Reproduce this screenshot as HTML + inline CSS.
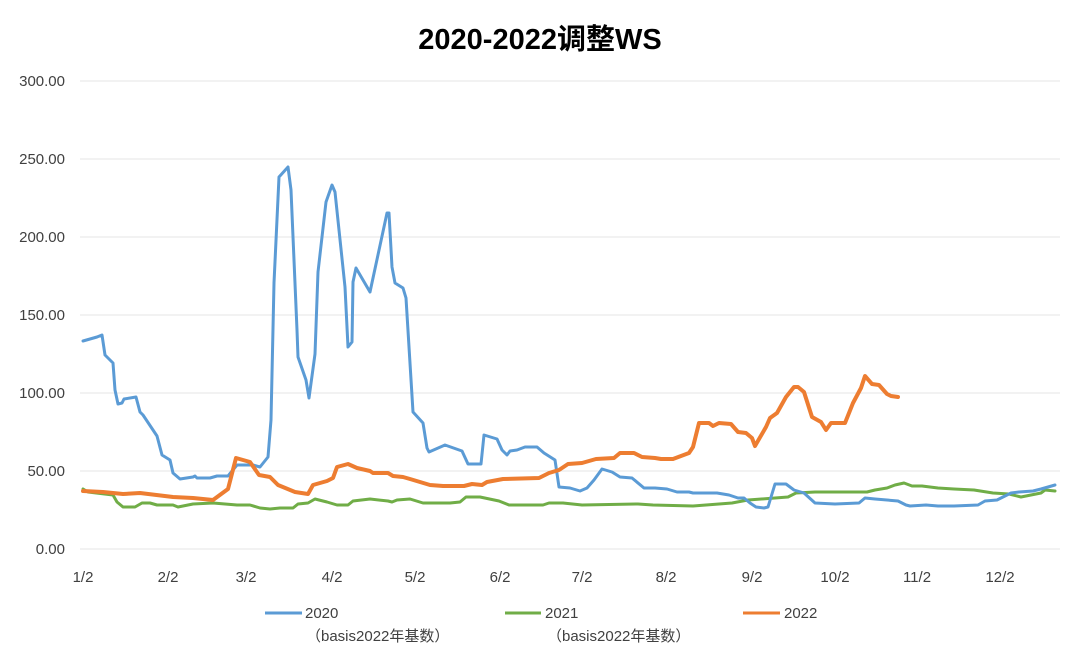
<!DOCTYPE html>
<html><head><meta charset="utf-8"><style>
body{margin:0;background:#fff;}
svg text{font-family:"Liberation Sans","Noto Sans CJK SC",sans-serif;fill:#404040;}
</style></head><body>
<svg width="1080" height="664" viewBox="0 0 1080 664" xmlns="http://www.w3.org/2000/svg">
<rect width="1080" height="664" fill="#fff"/>
<text x="540" y="49" text-anchor="middle" font-size="29" font-weight="bold" style="fill:#000">2020-2022调整WS</text>
<g stroke="#e6e6e6" stroke-width="1">
<line x1="80" y1="81" x2="1060" y2="81"/><line x1="80" y1="159" x2="1060" y2="159"/>
<line x1="80" y1="237" x2="1060" y2="237"/><line x1="80" y1="315" x2="1060" y2="315"/>
<line x1="80" y1="393" x2="1060" y2="393"/><line x1="80" y1="471" x2="1060" y2="471"/>
<line x1="80" y1="549" x2="1060" y2="549"/>
</g>
<g font-size="15" text-anchor="end">
<text x="65" y="86">300.00</text><text x="65" y="164">250.00</text><text x="65" y="242">200.00</text>
<text x="65" y="320">150.00</text><text x="65" y="398">100.00</text><text x="65" y="476">50.00</text><text x="65" y="554">0.00</text>
</g>
<g font-size="15" text-anchor="middle">
<text x="83" y="582">1/2</text><text x="168" y="582">2/2</text><text x="246" y="582">3/2</text><text x="332" y="582">4/2</text>
<text x="415" y="582">5/2</text><text x="500" y="582">6/2</text><text x="582" y="582">7/2</text><text x="666" y="582">8/2</text>
<text x="752" y="582">9/2</text><text x="835" y="582">10/2</text><text x="917" y="582">11/2</text><text x="1000" y="582">12/2</text>
</g>
<g fill="none" stroke-linejoin="round" stroke-linecap="round">
<polyline stroke="#70ad47" stroke-width="3" points="83,489 88,492 113,495 117,502 123,507 135,507 142,503 150,503 157,505 173,505 178,507 193,504 213,503 237,505 250,505 260,508 270,509 280,508 293,508 298,504 308,503 315,499 327,502 337,505 348,505 353,501 370,499 388,501 392,502 397,500 410,499 423,503 450,503 460,502 466,497 480,497 499,501 509,505 543,505 549,503 563,503 582,505 638,504 653,505 693,506 732,503 748,500 788,497 796,493 815,492 851,492 867,492 875,490 887,488 895,485 904,483 912,486 922,486 938,488 954,489 974,490 993,493 1009,494 1021,497 1041,493 1045,490 1055,491"/>
<polyline stroke="#5b9bd5" stroke-width="3" points="83,341 90,339 97,337 102,335 105,355 113,363 115,390 118,404 122,403 124,399 136,397 140,412 143,415 157,436 162,455 170,460 173,473 180,479 193,477 195,476 197,478 210,478 217,476 228,476 237,465 253,465 260,467 268,457 271,420 274,283 279,177 288,167 291,190 297,330 298,357 306,380 309,398 315,354 318,272 326,202 332,185 335,192 345,287 348,347 352,342 353,282 356,268 370,292 387,213 389,213 392,267 395,283 403,288 406,298 413,412 423,423 427,448 429,452 445,445 462,451 468,464 481,464 484,435 497,439 502,450 507,455 510,451 517,450 525,447 537,447 544,453 555,460 559,487 570,488 580,491 587,488 594,480 602,469 612,472 620,477 632,478 644,488 655,488 667,489 677,492 689,492 693,493 717,493 729,495 738,498 744,498 750,503 756,507 764,508 768,507 775,484 786,484 794,490 804,493 815,503 835,504 859,503 865,498 875,499 898,501 906,505 910,506 926,505 938,506 954,506 978,505 985,501 997,500 1005,496 1011,493 1019,492 1033,491 1041,489 1055,485"/>
<polyline stroke="#ed7d31" stroke-width="4" points="83,491 103,492 123,494 140,493 173,497 193,498 213,500 228,489 236,458 250,462 259,475 270,477 278,485 295,492 308,494 313,485 327,481 333,478 337,467 348,464 357,468 370,471 373,473 388,473 393,476 403,477 410,479 430,485 443,486 464,486 472,484 482,485 487,482 503,479 539,478 549,473 559,470 568,464 582,463 596,459 614,458 620,453 634,453 642,457 655,458 661,459 673,459 681,456 689,453 693,447 699,423 709,423 713,426 719,423 731,424 738,432 746,433 752,438 755,446 766,427 770,418 777,413 786,397 794,387 798,387 804,392 812,417 821,422 826,430 831,423 845,423 853,403 861,388 865,376 872,384 879,385 887,394 891,396 898,397"/>
</g>
<g stroke-width="3">
<line x1="265" y1="613" x2="302" y2="613" stroke="#5b9bd5"/>
<line x1="505" y1="613" x2="541" y2="613" stroke="#70ad47"/>
<line x1="743" y1="613" x2="780" y2="613" stroke="#ed7d31"/>
</g>
<g font-size="15">
<text x="305" y="618">2020</text><text x="306" y="641">（basis2022年基数）</text>
<text x="545" y="618">2021</text><text x="547" y="641">（basis2022年基数）</text>
<text x="784" y="618">2022</text>
</g>
</svg>
</body></html>
